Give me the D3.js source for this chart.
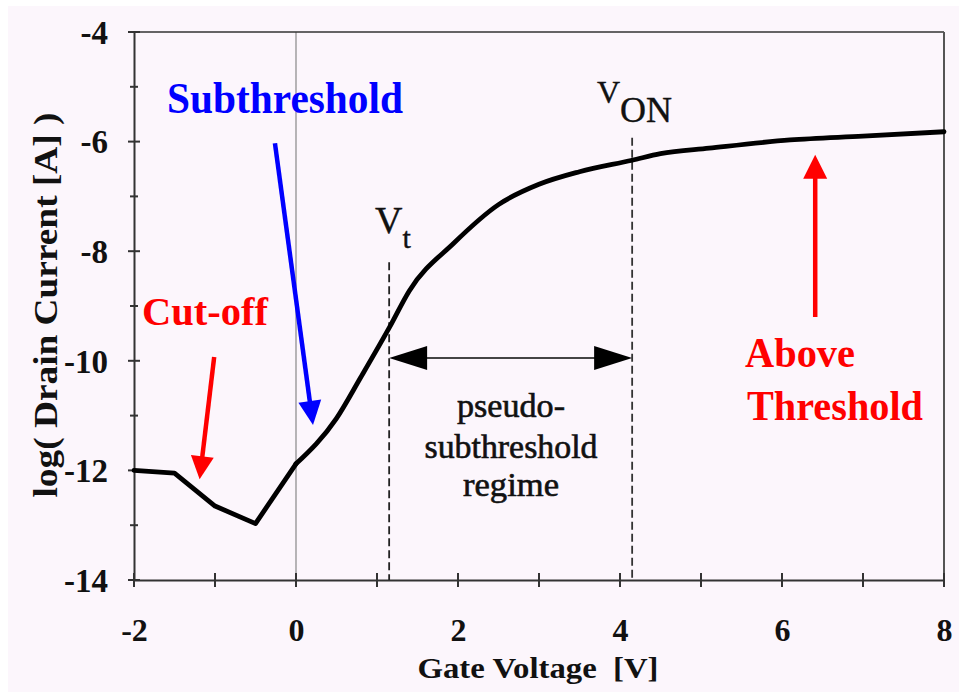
<!DOCTYPE html>
<html>
<head>
<meta charset="utf-8">
<script src="https://cdn.jsdelivr.net/npm/d3@7/dist/d3.min.js"></script>
<style>
  html, body { margin: 0; padding: 0; background: #ffffff; }
  svg { display: block; }
  text { font-family: "Liberation Serif", "Times New Roman", serif; }
</style>
</head>
<body>
<svg id="chart" width="959" height="693"></svg>
<script>
// Transfer characteristic: gate voltage [V] vs log10 of drain current [A]
const gateVoltage = [-2, -1.5, -1, -0.5, 0, 0.5, 0.8, 1.15, 1.4, 1.95, 2.5, 3.0, 3.5, 4.15, 4.5, 5.1, 6.1, 7.0, 8];
const logCurrent  = [-12.0, -12.05, -12.65, -12.97, -11.88, -11.05, -10.3, -9.4, -8.72, -7.85, -7.15, -6.78, -6.55, -6.34, -6.22, -6.12, -5.97, -5.9, -5.82];

const xTickLabels = [-2, 0, 2, 4, 6, 8];
const yTickLabels = [-4, -6, -8, -10, -12, -14];
const xMinorTicks = [-1, 1, 3, 5, 7];
const yMinorTicks = [-5, -7, -9, -11, -13];

// Threshold voltage and turn-on voltage markers
const vThreshold = 1.15;
const vOn = 4.15;
const vThresholdTop = -8.2;
const vOnTop = -5.93;

// Region annotation arrows: [x0, y0, x1, y1] in data units (tail -> tip)
const subthresholdArrow = [-0.26, -6.03, 0.21, -11.17];
const cutoffArrow = [-1.01, -9.93, -1.19, -12.16];
const aboveArrow = [6.41, -9.2, 6.41, -6.24];
const regimeArrowLevel = -9.95;

const svg = d3.select("#chart");

// page backdrop
svg.append("rect").attr("x", 8).attr("y", 6).attr("width", 951).attr("height", 686).attr("fill", "#fcf6fc");

const x = d3.scaleLinear().domain([-2, 8]).range([134, 944]);
const y = d3.scaleLinear().domain([-14, -4]).range([580, 32]);

const axisColor = "#333";

// vertical reference at zero volts
svg.append("line")
  .attr("x1", x(0)).attr("x2", x(0)).attr("y1", y(-4)).attr("y2", y(-14))
  .attr("stroke", "#888").attr("stroke-width", 1.2);

// frame: top and right borders
svg.append("line").attr("x1", x(-2)).attr("x2", x(8)).attr("y1", y(-4)).attr("y2", y(-4))
  .attr("stroke", axisColor).attr("stroke-width", 1.6);
svg.append("line").attr("x1", x(8)).attr("x2", x(8)).attr("y1", y(-4)).attr("y2", y(-14))
  .attr("stroke", "#555").attr("stroke-width", 2);

// Y axis with labels
const yAxis = d3.axisLeft(y).tickValues(yTickLabels).tickFormat(d => String(d)).tickSize(0).tickPadding(26);
const gy = svg.append("g").attr("transform", `translate(${x(-2)},0)`).call(yAxis);
gy.select(".domain").attr("stroke", axisColor).attr("stroke-width", 2);
gy.selectAll(".tick text")
  .attr("font-family", "Liberation Serif, serif").attr("font-weight", "bold")
  .attr("font-size", 33).attr("fill", "#111").attr("dy", "0.34em");

// X axis with labels
const xAxis = d3.axisBottom(x).tickValues(xTickLabels).tickFormat(d => String(d)).tickSize(0).tickPadding(38);
const gx = svg.append("g").attr("transform", `translate(0,${y(-14)})`).call(xAxis);
gx.select(".domain").attr("stroke", axisColor).attr("stroke-width", 2);
gx.selectAll(".tick text")
  .attr("font-family", "Liberation Serif, serif").attr("font-weight", "bold")
  .attr("font-size", 32).attr("fill", "#111");

// tick marks crossing the axes
const yTicks = yTickLabels.map(v => ({ v, s: 6 })).concat(yMinorTicks.map(v => ({ v, s: 4 })));
svg.append("g").selectAll("line").data(yTicks).join("line")
  .attr("x1", d => x(-2) - d.s).attr("x2", d => x(-2) + d.s)
  .attr("y1", d => y(d.v)).attr("y2", d => y(d.v))
  .attr("stroke", axisColor).attr("stroke-width", 2);
const xTicks = xTickLabels.concat(xMinorTicks);
svg.append("g").selectAll("line").data(xTicks).join("line")
  .attr("x1", d => x(d)).attr("x2", d => x(d))
  .attr("y1", y(-14) - 7).attr("y2", y(-14) + 7)
  .attr("stroke", axisColor).attr("stroke-width", 2);

// axis titles
svg.append("text")
  .attr("x", 538).attr("y", 678).attr("text-anchor", "middle")
  .attr("font-weight", "bold").attr("font-size", 30).attr("fill", "#111")
  .attr("textLength", 241).attr("lengthAdjust", "spacingAndGlyphs")
  .text("Gate Voltage\u00a0 [V]");
svg.append("text")
  .attr("transform", "translate(57,305) rotate(-90)").attr("text-anchor", "middle")
  .attr("font-weight", "bold").attr("font-size", 34).attr("fill", "#111")
  .attr("textLength", 385).attr("lengthAdjust", "spacingAndGlyphs")
  .text("log( Drain Current [A] )");

// dashed markers for Vt and VON
svg.append("line")
  .attr("x1", x(vThreshold)).attr("x2", x(vThreshold)).attr("y1", y(vThresholdTop)).attr("y2", y(-14))
  .attr("stroke", "#222").attr("stroke-width", 1.8).attr("stroke-dasharray", "8,4");
svg.append("line")
  .attr("x1", x(vOn)).attr("x2", x(vOn)).attr("y1", y(vOnTop)).attr("y2", y(-14))
  .attr("stroke", "#333").attr("stroke-width", 1.8).attr("stroke-dasharray", "8,4");

// the characteristic curve: straight segments through cut-off, smooth above
const data = gateVoltage.map((v, i) => ({ v, c: logCurrent[i] }));
const lowPart = data.filter(d => d.v <= 0);
const highPart = data.filter(d => d.v >= 0);
const curveStyle = sel => sel.attr("fill", "none").attr("stroke", "#000").attr("stroke-width", 4.8)
  .attr("stroke-linejoin", "round").attr("stroke-linecap", "round");
svg.append("path").datum(lowPart).call(curveStyle)
  .attr("d", d3.line().x(d => x(d.v)).y(d => y(d.c)).curve(d3.curveLinear));
svg.append("path").datum(highPart).call(curveStyle)
  .attr("d", d3.line().x(d => x(d.v)).y(d => y(d.c)).curve(d3.curveMonotoneX));

// arrow helper: shaft + filled triangular head
function arrow(a, color, width, headLen, headW) {
  const x0 = x(a[0]), y0 = y(a[1]), x1 = x(a[2]), y1 = y(a[3]);
  const dx = x1 - x0, dy = y1 - y0, L = Math.hypot(dx, dy);
  const ux = dx / L, uy = dy / L;
  const bx = x1 - ux * headLen, by = y1 - uy * headLen;
  svg.append("line").attr("x1", x0).attr("y1", y0).attr("x2", bx + ux * 2).attr("y2", by + uy * 2)
    .attr("stroke", color).attr("stroke-width", width);
  svg.append("path")
    .attr("d", `M${x1},${y1} L${bx - uy * headW / 2},${by + ux * headW / 2} L${bx + uy * headW / 2},${by - ux * headW / 2} Z`)
    .attr("fill", color);
}
arrow(subthresholdArrow, "#0000ff", 4.5, 24, 23);
arrow(cutoffArrow, "#ff0000", 4.5, 23, 23);
arrow(aboveArrow, "#ff0000", 4.5, 24, 24);

// double-headed arrow spanning the pseudo-subthreshold regime
(function () {
  const yl = y(regimeArrowLevel), xa = x(vThreshold), xb = x(vOn);
  svg.append("line").attr("x1", xa + 30).attr("x2", xb - 30).attr("y1", yl).attr("y2", yl)
    .attr("stroke", "#444").attr("stroke-width", 2);
  svg.append("path").attr("d", `M${xa},${yl} L${xa + 38},${yl - 12} L${xa + 38},${yl + 12} Z`).attr("fill", "#000");
  svg.append("path").attr("d", `M${xb},${yl} L${xb - 38},${yl - 12} L${xb - 38},${yl + 12} Z`).attr("fill", "#000");
})();

// region labels
svg.append("text").attr("x", 167).attr("y", 113)
  .attr("font-weight", "bold").attr("font-size", 44).attr("fill", "#0000ff")
  .attr("textLength", 236).attr("lengthAdjust", "spacingAndGlyphs").text("Subthreshold");
svg.append("text").attr("x", 142).attr("y", 325)
  .attr("font-weight", "bold").attr("font-size", 39).attr("fill", "#ff0000")
  .attr("textLength", 126).attr("lengthAdjust", "spacingAndGlyphs").text("Cut-off");
svg.append("text").attr("x", 745).attr("y", 367)
  .attr("font-weight", "bold").attr("font-size", 42).attr("fill", "#ff0000")
  .attr("textLength", 110).attr("lengthAdjust", "spacingAndGlyphs").text("Above");
svg.append("text").attr("x", 747).attr("y", 420)
  .attr("font-weight", "bold").attr("font-size", 42).attr("fill", "#ff0000")
  .attr("textLength", 176).attr("lengthAdjust", "spacingAndGlyphs").text("Threshold");

// regime description
const regimeLines = [
  { t: "pseudo-", y: 417, w: 108 },
  { t: "subthreshold", y: 458, w: 173 },
  { t: "regime", y: 496, w: 96 }
];
svg.append("g").selectAll("text").data(regimeLines).join("text")
  .attr("x", 511).attr("y", d => d.y).attr("text-anchor", "middle")
  .attr("font-size", 33).attr("fill", "#111").attr("stroke", "#111").attr("stroke-width", 0.6)
  .attr("textLength", d => d.w).attr("lengthAdjust", "spacingAndGlyphs")
  .text(d => d.t);

// voltage marker labels
const vt = svg.append("text").attr("x", 375).attr("y", 233).attr("fill", "#111")
  .attr("stroke", "#111").attr("stroke-width", 0.4);
vt.append("tspan").attr("font-size", 38).text("V");
vt.append("tspan").attr("font-size", 30).attr("dy", 15).text("t");

const von = svg.append("text").attr("x", 597).attr("y", 103).attr("fill", "#111")
  .attr("stroke", "#111").attr("stroke-width", 0.4);
von.append("tspan").attr("font-size", 32).text("V");
von.append("tspan").attr("font-size", 36).attr("dy", 19).text("ON");
</script>
</body>
</html>
